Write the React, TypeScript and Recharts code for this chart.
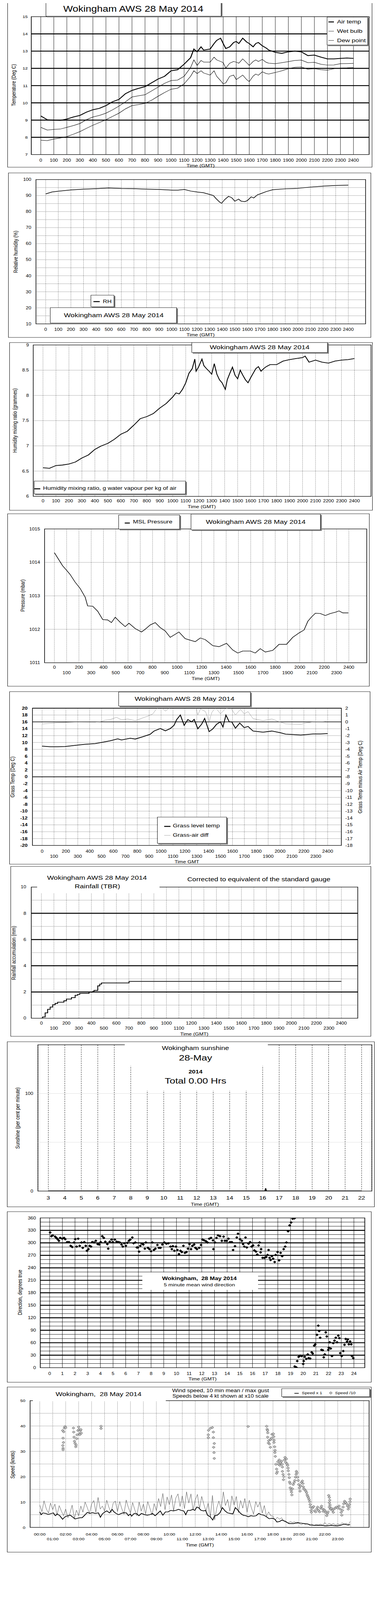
import React from 'react';
import { ComposedChart, Line, Scatter, XAxis, YAxis, CartesianGrid, ReferenceLine, ReferenceArea } from 'recharts';

const FONT = '"Liberation Sans", Arial, Helvetica, sans-serif';
// the photographed area is 1000x4096, so the 1000x5000 layout is fitted into it vertically
const FIT = 4096 / 5000;
type Pt = [number, number];
const rows = (p: Pt[]) => p.map(([x, y]) => ({ x, y }));

// ---------- axis ticks / grid values ----------
const hundredTicks = [0, 100, 200, 300, 400, 500, 600, 700, 800, 900, 1000, 1100, 1200, 1300, 1400, 1500, 1600, 1700, 1800, 1900, 2000, 2100, 2200, 2300, 2400];
const tempTicks = [7, 8, 9, 10, 11, 12, 13, 14, 15];
const tempThickLines = [8, 9, 10, 11, 12, 13, 14];
const rhTicks = [10, 20, 30, 40, 50, 60, 70, 80, 90, 100];
const rhGridLines = [15, 20, 25, 30, 35, 40, 45, 50, 55, 60, 65, 70, 75, 80, 85, 90, 95];
const mrTicks = [6, 6.5, 7, 7.5, 8, 8.5, 9];
const mrGridLines = [6.5, 7, 7.5, 8, 8.5];
const pressTicks = [1011, 1012, 1013, 1014, 1015];
const pressGridLines = [1012, 1013, 1014];
const grassTicks = [-20, -18, -16, -14, -12, -10, -8, -6, -4, -2, 0, 2, 4, 6, 8, 10, 12, 14, 16, 18, 20];
const grassDiffTicks = [-18, -17, -16, -15, -14, -13, -12, -11, -10, -9, -8, -7, -6, -5, -4, -3, -2, -1, 0, 1, 2];
const grassDotLines = [-18, -16, -14, -12, -10, -8, -6, -4, -2, 2, 4, 6, 8, 10, 12, 14, 18];
const grassSolidLines = [0, 16, 20];
const rainTicks = [0, 2, 4, 6, 8, 10];
const rainDotLines = [1, 3, 5, 7, 9];
const rainThickLines = [2, 4, 6, 8];
const sunTicks = [0, 50, 100];
const sunGridLines = [50, 100];
const sunHourTicks = [3, 4, 5, 6, 7, 8, 9, 10, 11, 12, 13, 14, 15, 16, 17, 18, 19, 20, 21, 22];
const dirTicks = [0, 30, 60, 90, 120, 150, 180, 210, 240, 270, 300, 330, 360];
const dirLines = [10, 20, 30, 40, 50, 60, 70, 80, 90, 100, 110, 120, 130, 140, 150, 160, 170, 180, 190, 200, 210, 220, 230, 240, 250, 260, 270, 280, 290, 300, 310, 320, 330, 340, 350];
const dirHourTicks = [0, 1, 2, 3, 4, 5, 6, 7, 8, 9, 10, 11, 12, 13, 14, 15, 16, 17, 18, 19, 20, 21, 22, 23, 24];
const speedTicks = [0, 10, 20, 30, 40, 50];
const speedGridLines = [5, 10, 15, 20, 25, 30, 35, 40, 45];
const speedHourTicks = [0, 1, 2, 3, 4, 5, 6, 7, 8, 9, 10, 11, 12, 13, 14, 15, 16, 17, 18, 19, 20, 21, 22, 23, 24, 25];

// ---------- data ----------
const airTemp: Pt[] = [[0,9.24],[50,9.02],[100,8.99],[150,8.98],[200,9.06],[250,9.18],[300,9.27],[350,9.46],[400,9.6],[450,9.68],[500,9.84],[550,10.06],[600,10.2],[650,10.53],[700,10.72],[750,10.84],[800,10.94],[850,11.16],[900,11.38],[950,11.54],[1000,11.86],[1050,11.92],[1100,12.24],[1150,12.62],[1175,13.12],[1200,12.96],[1230,13.25],[1250,13.06],[1300,13.12],[1330,13.44],[1350,13.62],[1380,13.75],[1400,13.44],[1420,13.15],[1450,13.25],[1480,13.5],[1500,13.56],[1520,13.44],[1550,13.75],[1580,13.53],[1600,13.44],[1630,13.25],[1650,13.44],[1670,13.5],[1700,13.31],[1730,13.18],[1750,13.06],[1800,12.93],[1850,12.87],[1900,12.96],[1950,13.0],[2000,12.96],[2050,12.74],[2100,12.77],[2150,12.65],[2200,12.55],[2250,12.55],[2300,12.58],[2350,12.6],[2400,12.58]];
const wetBulb: Pt[] = [[0,8.58],[50,8.42],[100,8.46],[150,8.48],[200,8.58],[250,8.68],[300,8.8],[350,9.02],[400,9.18],[450,9.27],[500,9.4],[550,9.59],[600,9.81],[650,10.06],[700,10.34],[750,10.41],[800,10.47],[850,10.69],[900,10.91],[950,11.13],[1000,11.29],[1050,11.32],[1100,11.54],[1150,12.05],[1175,12.49],[1200,12.17],[1230,12.46],[1250,12.36],[1300,12.36],[1330,12.65],[1350,12.49],[1380,12.4],[1400,12.33],[1420,12.02],[1450,12.3],[1480,12.4],[1500,12.36],[1520,12.3],[1550,12.55],[1580,12.33],[1600,12.17],[1630,12.4],[1650,12.49],[1670,12.4],[1700,12.52],[1730,12.35],[1750,12.3],[1800,12.27],[1850,12.33],[1900,12.39],[1950,12.46],[2000,12.48],[2050,12.33],[2100,12.35],[2150,12.24],[2200,12.19],[2250,12.2],[2300,12.27],[2350,12.28],[2400,12.29]];
const dewPoint: Pt[] = [[0,7.83],[50,7.81],[100,7.9],[150,7.96],[200,8.04],[250,8.18],[300,8.33],[350,8.52],[400,8.7],[450,8.86],[500,9.02],[550,9.21],[600,9.4],[650,9.65],[700,9.84],[750,9.9],[800,9.97],[850,10.15],[900,10.38],[950,10.6],[1000,10.79],[1050,10.85],[1100,11.1],[1150,11.54],[1175,11.86],[1200,11.7],[1230,11.86],[1250,11.73],[1300,11.61],[1330,11.86],[1350,11.54],[1380,11.29],[1400,11.1],[1420,11.16],[1450,11.54],[1480,11.61],[1500,11.35],[1520,11.45],[1550,11.61],[1580,11.35],[1600,11.23],[1630,11.55],[1650,11.67],[1670,11.6],[1700,11.8],[1730,11.7],[1750,11.67],[1800,11.76],[1850,11.86],[1900,11.98],[1950,12.06],[2000,12.08],[2050,11.95],[2100,11.98],[2150,11.92],[2200,11.89],[2250,11.98],[2300,12.02],[2350,12.03],[2400,12.05]];
const relHum: Pt[] = [[0,91.0],[50,92.2],[100,92.7],[200,93.5],[300,94.0],[400,94.3],[500,94.7],[600,94.4],[700,94.3],[800,94.0],[900,93.8],[1000,93.4],[1050,93.4],[1100,93.8],[1150,92.8],[1200,92.2],[1250,91.8],[1300,90.7],[1330,90.0],[1350,88.2],[1380,85.9],[1395,85.2],[1420,87.5],[1450,89.5],[1475,88.7],[1500,86.5],[1530,87.8],[1550,86.5],[1580,86.2],[1600,86.9],[1630,89.2],[1650,88.5],[1680,90.5],[1700,91.0],[1750,92.5],[1800,93.6],[1900,94.2],[2000,94.5],[2100,95.3],[2200,95.9],[2300,96.3],[2400,96.5]];
const mixRatio: Pt[] = [[0,6.566],[50,6.555],[100,6.61],[150,6.62],[200,6.64],[250,6.68],[300,6.76],[350,6.82],[400,6.93],[450,7.0],[500,7.05],[550,7.13],[600,7.23],[650,7.29],[700,7.41],[750,7.54],[800,7.58],[850,7.64],[900,7.75],[950,7.84],[1000,7.97],[1025,8.05],[1050,8.03],[1075,8.12],[1100,8.25],[1125,8.44],[1150,8.53],[1170,8.72],[1180,8.48],[1200,8.57],[1225,8.72],[1240,8.59],[1260,8.53],[1280,8.48],[1300,8.42],[1320,8.63],[1340,8.42],[1360,8.31],[1380,8.25],[1405,8.12],[1420,8.31],[1440,8.44],[1460,8.56],[1480,8.4],[1500,8.33],[1520,8.5],[1540,8.4],[1560,8.31],[1580,8.25],[1600,8.35],[1620,8.44],[1640,8.53],[1660,8.57],[1680,8.48],[1700,8.53],[1720,8.57],[1750,8.61],[1800,8.61],[1850,8.68],[1900,8.71],[1950,8.73],[2000,8.75],[2020,8.78],[2050,8.66],[2100,8.7],[2150,8.66],[2200,8.64],[2250,8.68],[2300,8.7],[2350,8.71],[2400,8.73]];
const mslPressure: Pt[] = [[0,1014.29],[67,1013.9],[98,1013.77],[128,1013.64],[169,1013.41],[210,1013.22],[251,1012.96],[271,1012.7],[312,1012.69],[353,1012.54],[394,1012.29],[434,1012.28],[465,1012.2],[496,1012.36],[536,1012.21],[577,1012.08],[608,1012.18],[659,1012.02],[710,1011.92],[740,1012.0],[781,1012.13],[822,1012.2],[863,1012.05],[903,1011.95],[944,1011.76],[985,1011.85],[1015,1011.92],[1066,1011.72],[1148,1011.63],[1189,1011.74],[1230,1011.69],[1291,1011.51],[1342,1011.48],[1403,1011.58],[1454,1011.38],[1495,1011.29],[1535,1011.35],[1597,1011.35],[1637,1011.29],[1678,1011.42],[1719,1011.32],[1780,1011.37],[1831,1011.55],[1892,1011.55],[1943,1011.76],[1994,1011.89],[2035,1011.98],[2066,1012.24],[2096,1012.37],[2127,1012.48],[2168,1012.47],[2208,1012.41],[2249,1012.47],[2290,1012.51],[2320,1012.55],[2351,1012.49],[2396,1012.49]];
const grassTemp: Pt[] = [[0,8.93],[67,8.77],[131,8.77],[194,8.83],[278,9.17],[362,9.47],[446,9.67],[509,10.07],[573,10.5],[636,11.07],[667,10.73],[741,11.23],[783,11.0],[846,11.67],[909,12.4],[941,13.33],[994,14.07],[1036,13.4],[1078,14.07],[1109,15.0],[1131,16.67],[1162,18.0],[1194,15.0],[1225,16.67],[1257,16.0],[1278,16.73],[1309,14.0],[1341,15.33],[1366,17.0],[1404,13.17],[1436,14.0],[1467,15.33],[1499,16.0],[1520,14.5],[1545,18.0],[1573,16.0],[1594,16.0],[1625,14.17],[1661,15.67],[1699,14.33],[1731,14.67],[1773,13.33],[1857,13.0],[1931,13.33],[2004,12.83],[2046,12.43],[2109,12.33],[2173,12.17],[2225,12.33],[2278,12.5],[2341,12.5],[2400,12.6]];
const grassAirDiff: Pt[] = [[0,-0.3],[131,-0.13],[278,-0.03],[446,-0.05],[488,0.03],[531,0.25],[573,0.33],[625,0.67],[667,0.3],[720,0.42],[783,0.17],[846,0.58],[888,0.83],[931,1.17],[962,1.92],[994,2.2],[1036,1.58],[1078,2.1],[1120,2.6],[1162,2.4],[1204,2.5],[1246,2.3],[1288,2.2],[1309,1.0],[1331,1.9],[1373,1.5],[1404,0.0],[1425,1.33],[1457,2.1],[1499,1.17],[1541,1.92],[1583,2.1],[1625,1.0],[1667,1.83],[1699,1.17],[1731,1.5],[1773,0.47],[1857,0.17],[1931,0.42],[1983,0.08],[2046,-0.28],[2109,-0.33],[2173,-0.37],[2215,-0.17],[2278,0.0],[2362,0.03],[2383,0.08]];
const rainfall: Pt[] = [[0,0],[10,0.1],[30,0.41],[50,0.68],[70,0.85],[90,1.03],[110,1.13],[130,1.22],[180,1.33],[200,1.46],[240,1.57],[270,1.75],[290,1.82],[307,1.89],[381,1.99],[411,2.04],[421,2.12],[451,2.47],[467,2.6],[481,2.69],[701,2.81],[2400,2.81]];
const sunshine: Pt[] = [[3,0],[16.14,0],[16.18,2.7],[16.22,0],[22,0]];
const windDir: Pt[] = [[0.04,325],[0.14,316],[0.24,318],[0.43,315],[0.53,312],[0.63,309],[0.73,305],[0.83,312],[0.99,310],[1.13,312],[1.23,309],[1.38,302],[1.52,302],[1.66,293],[1.78,290],[1.92,301],[2.02,309],[2.13,291],[2.25,310],[2.37,293],[2.51,301],[2.61,288],[2.73,302],[2.85,293],[2.94,281],[3.06,285],[3.16,293],[3.26,291],[3.36,302],[3.5,301],[3.64,305],[3.79,297],[3.91,296],[4.03,302],[4.15,316],[4.27,312],[4.39,303],[4.55,297],[4.62,286],[4.74,303],[4.88,308],[4.98,302],[5.14,308],[5.28,303],[5.42,302],[5.53,301],[5.67,296],[5.77,291],[5.89,299],[6.01,293],[6.13,300],[6.25,305],[6.36,308],[6.52,313],[6.62,299],[6.76,301],[6.88,289],[6.96,289],[7.06,279],[7.15,293],[7.27,298],[7.39,296],[7.51,286],[7.59,301],[7.75,288],[7.87,285],[8.0,280],[8.1,301],[8.22,283],[8.34,286],[8.5,295],[8.62,288],[8.74,288],[8.89,296],[9.05,301],[9.21,298],[9.37,299],[9.53,291],[9.64,285],[9.72,292],[9.84,281],[9.96,291],[10.08,283],[10.2,273],[10.32,281],[10.43,278],[10.55,293],[10.67,276],[10.79,278],[10.91,286],[11.03,297],[11.15,285],[11.26,293],[11.4,296],[11.5,288],[11.62,285],[11.8,288],[11.94,295],[12.06,308],[12.19,306],[12.33,304],[12.45,301],[12.59,310],[12.73,312],[12.89,306],[12.92,285],[13.04,301],[13.16,312],[13.28,318],[13.44,316],[13.58,305],[13.72,315],[13.83,305],[13.97,305],[14.11,310],[14.23,302],[14.37,302],[14.47,283],[14.62,292],[14.76,313],[14.86,322],[15.02,309],[15.16,305],[15.26,297],[15.36,291],[15.45,313],[15.55,289],[15.69,298],[15.81,302],[15.93,291],[16.05,294],[16.15,282],[16.28,279],[16.38,272],[16.48,294],[16.56,301],[16.64,277],[16.68,285],[16.8,264],[16.94,264],[17.08,266],[17.19,271],[17.27,283],[17.35,264],[17.43,259],[17.53,268],[17.63,262],[17.75,254],[17.83,271],[17.98,278],[18.1,258],[18.22,276],[18.34,268],[18.46,285],[18.58,291],[18.68,301],[18.81,328],[18.93,342],[19.05,349],[19.17,358],[19.31,359],[19.33,3],[19.45,1],[19.53,16],[19.64,26],[19.76,29],[19.88,28],[20.0,9],[20.04,16],[20.12,26],[20.24,21],[20.36,32],[20.43,23],[20.55,22],[20.67,37],[20.75,34],[20.87,53],[20.95,56],[21.09,79],[21.19,101],[21.26,88],[21.34,72],[21.44,43],[21.54,42],[21.62,25],[21.7,32],[21.78,85],[21.86,75],[21.98,43],[22.02,48],[22.09,61],[22.17,46],[22.27,28],[22.37,59],[22.47,65],[22.57,72],[22.67,61],[22.77,77],[22.85,71],[22.92,35],[23.04,28],[23.16,40],[23.26,55],[23.36,69],[23.46,63],[23.52,68],[23.6,56],[23.7,63],[23.79,56],[23.85,28],[23.95,23]];
const meanSpeed: Pt[] = [[0,6.1],[0.1,5.0],[0.25,5.7],[0.45,5.5],[0.65,5.1],[0.85,5.4],[1.05,5.7],[1.2,4.6],[1.35,5.3],[1.55,4.6],[1.76,3.2],[1.96,4.2],[2.16,4.6],[2.36,4.8],[2.51,4.2],[2.72,3.3],[2.92,3.6],[3.12,3.8],[3.27,3.8],[3.47,4.8],[3.67,5.9],[3.87,5.5],[4.07,5.8],[4.28,5.5],[4.53,5.7],[4.68,4.0],[4.83,5.3],[5.03,6.1],[5.18,6.5],[5.38,5.7],[5.58,7.1],[5.73,6.1],[5.89,5.5],[6.09,5.0],[6.29,5.5],[6.49,5.8],[6.69,5.7],[6.84,4.6],[6.99,5.3],[7.09,4.4],[7.29,5.5],[7.49,5.4],[7.65,4.6],[7.85,5.5],[8.1,5.0],[8.3,4.8],[8.5,5.0],[8.7,5.5],[8.9,4.6],[9.1,5.5],[9.3,6.5],[9.5,4.8],[9.7,6.1],[9.9,6.1],[10.11,6.7],[10.31,6.5],[10.51,6.7],[10.71,7.1],[10.91,6.7],[11.11,6.5],[11.27,5.0],[11.42,6.7],[11.62,6.7],[11.82,7.1],[11.97,6.7],[12.12,8.0],[12.25,7.8],[12.45,6.7],[12.65,6.5],[12.8,6.7],[12.95,4.8],[13.15,4.2],[13.35,2.9],[13.5,4.6],[13.7,4.8],[13.9,5.7],[14.1,7.8],[14.3,6.5],[14.5,5.7],[14.7,5.5],[14.9,5.3],[15.1,7.8],[15.3,6.7],[15.5,5.5],[15.7,4.8],[15.9,4.6],[16.1,4.2],[16.3,4.6],[16.5,4.4],[16.7,4.6],[16.9,5.5],[17.1,5.0],[17.3,4.8],[17.5,4.2],[17.7,3.4],[17.95,3.6],[18.15,3.2],[18.3,2.1],[18.5,2.3],[18.7,2.9],[18.95,2.3],[19.25,1.5],[19.6,1.5],[19.9,1.9],[20.1,1.7],[20.4,1.5],[20.7,1.3],[20.9,0.9],[21.2,0.8],[21.5,0.8],[21.8,0.8],[22.1,0.6],[22.5,0.8],[22.9,0.6],[23.2,0.8],[23.5,1.3],[23.8,0.9],[23.95,1.1]];
const gustSpeed: Pt[] = [[0,8.8],[0.17,6.2],[0.33,10.5],[0.5,7.4],[0.67,5.6],[0.83,9.6],[1,7.0],[1.17,9.2],[1.33,4.8],[1.5,8.6],[1.67,6.4],[1.83,4.6],[2,7.2],[2.17,3.8],[2.33,5.6],[2.5,8.8],[2.67,3.4],[2.83,6.8],[3,4.6],[3.17,8.4],[3.33,6.0],[3.5,10.0],[3.67,7.8],[3.83,5.4],[4,9.2],[4.17,10.6],[4.33,6.0],[4.5,11.8],[4.67,7.2],[4.83,8.4],[5,6.4],[5.17,10.7],[5.33,8.0],[5.5,5.8],[5.67,9.6],[5.83,10.4],[6,6.2],[6.17,10.2],[6.33,7.4],[6.5,5.2],[6.67,10.8],[6.83,8.0],[7,5.6],[7.17,9.8],[7.33,7.0],[7.5,4.6],[7.67,10.0],[7.83,6.4],[8,9.2],[8.17,5.2],[8.33,10.2],[8.5,7.6],[8.67,4.8],[8.83,9.4],[9,6.6],[9.17,11.4],[9.33,8.2],[9.5,13.4],[9.67,7.0],[9.83,12.0],[10,9.0],[10.17,12.8],[10.33,6.6],[10.5,11.6],[10.67,13.2],[10.83,8.2],[11,12.4],[11.17,7.4],[11.33,14.0],[11.5,9.6],[11.67,13.2],[11.83,6.8],[12,10.8],[12.17,13.0],[12.33,7.2],[12.5,12.2],[12.67,9.0],[12.83,6.4],[13,9.6],[13.17,4.2],[13.33,12.6],[13.5,3.0],[13.67,7.8],[13.83,10.4],[14,7.2],[14.17,14.0],[14.33,8.6],[14.5,11.0],[14.67,6.4],[14.83,12.4],[15,8.8],[15.17,12.2],[15.33,5.8],[15.5,10.6],[15.67,7.6],[15.83,11.4],[16,6.0],[16.17,10.7],[16.33,7.8],[16.5,5.2],[16.67,10.2],[16.83,8.0],[17,10.0],[17.17,5.6],[17.33,8.6],[17.5,4.4],[17.67,6.1],[17.83,4.6],[18,4.4],[18.17,2.8],[18.33,4.0],[18.5,3.2],[18.67,3.8],[18.83,2.6],[19,2.5],[19.17,1.6],[19.33,2.3],[19.5,1.9],[19.67,2.2],[19.83,1.5],[20,1.7],[20.17,1.0],[20.33,1.5],[20.5,1.2],[20.67,1.4],[20.83,0.8],[21,1.3],[21.17,0.7],[21.33,1.2],[21.5,0.9],[21.67,1.3],[21.83,0.8],[22,1.9],[22.17,0.9],[22.33,1.6],[22.5,1.1],[22.67,1.5],[22.83,0.9],[23,1.4],[23.17,1.0],[23.33,1.8],[23.5,1.2],[23.67,1.6],[23.83,1.1],[23.95,2.3]];
const speedTenth: Pt[] = [[1.77,38.2],[1.8,35.2],[1.83,33.5],[1.78,32.3],[1.8,31.2],[1.8,30.6],[1.85,37.7],[1.9,39.2],[1.95,39.8],[2.0,39.3],[2.6,39.2],[2.62,37.6],[2.65,35.6],[2.68,34],[2.72,33.2],[2.78,31.8],[2.8,32.5],[2.85,35],[2.88,36.5],[2.95,38.2],[3.0,39.6],[3.03,38.6],[3.07,37],[3.1,36.6],[3.13,38.2],[3.17,38.6],[3.2,37.2],[4.73,39.9],[4.73,39.0],[13.01,35.4],[13.01,36.5],[13.03,38.3],[13.17,39.1],[13.32,39.4],[13.4,37.6],[13.4,35.4],[13.47,33.1],[13.42,31.6],[13.45,29.5],[13.47,27.2],[16.08,39.8],[17.51,39.9],[17.55,38.7],[17.58,38.2],[17.6,37.3],[17.59,35.6],[17.67,34.2],[17.65,33.3],[17.72,32.9],[17.82,34.6],[17.8,31.6],[17.88,35.2],[17.93,36.7],[18.03,36.9],[18.06,35.8],[18.08,34.4],[18.08,33.5],[18.13,31.8],[18.16,30.4],[18.15,29.5],[18.18,28.0],[18.23,24.9],[18.28,23.0],[18.33,21.9],[18.28,21.3],[18.38,25.9],[18.43,24.9],[18.48,26.6],[18.53,24.5],[18.58,25.5],[18.66,26.1],[18.7,24.9],[18.73,23.8],[18.73,22.1],[18.78,20.9],[18.81,18.8],[18.83,20.0],[18.88,26.6],[18.93,27.6],[18.98,25.7],[19.03,27.0],[19.08,25.1],[19.13,24.5],[19.16,23.4],[19.18,22.3],[19.23,20.9],[19.26,19.6],[19.28,17.9],[19.33,17.3],[19.33,15.6],[19.4,14.7],[19.43,13.9],[19.46,12.8],[19.5,15.2],[19.56,16.9],[19.63,17.7],[19.69,18.5],[19.74,19.8],[19.79,20.9],[19.81,22.1],[19.85,21.5],[19.89,19.8],[19.94,18.5],[19.99,16.9],[20.04,15.6],[20.09,14.3],[20.14,16.4],[20.19,17.7],[20.27,18.3],[20.31,17.3],[20.34,16.0],[20.39,15.2],[20.47,14.7],[20.54,14.3],[20.59,13.7],[20.64,12.8],[20.69,12.2],[20.74,11.6],[20.79,10.9],[20.84,10.1],[20.87,9.0],[20.89,8.0],[20.94,6.7],[20.97,5.9],[21.04,7.6],[21.14,8.2],[21.2,6.5],[21.3,6.1],[21.38,7.2],[21.45,8.0],[21.52,6.7],[21.6,6.1],[21.68,7.6],[21.75,8.4],[21.8,7.4],[21.88,6.3],[21.95,6.9],[22.02,6.5],[22.08,5.9],[22.15,4.6],[22.2,5.5],[22.25,6.1],[22.3,12.6],[22.35,11.8],[22.38,10.7],[22.35,9.7],[22.4,8.8],[22.35,8.0],[22.42,7.2],[22.5,7.6],[22.58,6.7],[22.66,5.9],[22.7,7.2],[22.8,7.6],[22.9,8.0],[23.0,7.6],[23.1,8.4],[23.19,7.2],[23.26,5.9],[23.31,4.8],[23.36,6.7],[23.41,8.0],[23.46,9.3],[23.53,10.3],[23.6,9.9],[23.68,9.3],[23.75,8.4],[23.81,7.2],[23.86,8.0],[23.91,9.0],[23.94,10.1],[23.96,11.2]];

// ---------- helpers ----------
const abs = (l: number, t: number, w: number, h: number): React.CSSProperties => ({ position: 'absolute', left: l, top: t, width: w, height: h });
const tk = (size: number, bold = false) => ({ fontSize: size, fill: '#000', fontFamily: FONT, fontWeight: bold ? 'bold' : 'normal' });

function Frame({ l, t, w, h }: any) {
  return <div style={{ ...abs(l, t, w, h), border: '1.5px solid #000', boxSizing: 'border-box' }} />;
}
function Box({ l, t, w, h, shadow = true, border = true }: any) {
  return <div style={{ ...abs(l, t, w, h), background: '#fff', border: border ? '1px solid #000' : 'none', boxSizing: 'border-box', boxShadow: shadow ? '3px 3px 0 #7a7a7a' : 'none' }} />;
}
function T({ x, y, size, bold = false, anchor = 'middle', rot = false, children }: any) {
  const tx = anchor === 'middle' ? '-50%' : anchor === 'end' ? '-100%' : '0';
  return (
    <div style={{ position: 'absolute', left: x, top: y, transform: `translate(${tx},-50%)${rot ? ' rotate(-90deg)' : ''}`, fontFamily: FONT, fontSize: size, fontWeight: bold ? 'bold' : 'normal', whiteSpace: 'pre', lineHeight: 1, color: '#000' }}>
      {children}
    </div>
  );
}
function Sample({ x, y, w, th, color = '#000' }: any) {
  return <div style={{ position: 'absolute', left: x, top: y - th / 2, width: w, height: th, background: color }} />;
}
function White({ l, t, w, h }: any) {
  return <div style={{ ...abs(l, t, w, h), background: '#fff' }} />;
}

const rowTick = (size: number, gap: number, lower: (v: number) => boolean, fmt: (v: number) => string) => (props: any) => {
  const { x, y, payload } = props;
  const v = payload.value;
  const s = fmt(v);
  if (!s) return <g />;
  return (
    <text x={x} y={y + (lower(v) ? gap : 0)} dy="0.71em" textAnchor="middle" fontSize={size} fontFamily={FONT} fill="#000">
      {s}
    </text>
  );
};
const oddHundred = (v: number) => (v / 100) % 2 === 1;
const oddHour = (v: number) => v % 2 === 1;

const blackDiamond = (p: any) => <path d={`M${p.cx},${p.cy - 4.2}L${p.cx + 4},${p.cy}L${p.cx},${p.cy + 4.2}L${p.cx - 4},${p.cy}Z`} fill="#000" />;
const grayDiamond = (p: any) => <path d={`M${p.cx},${p.cy - 3.8}L${p.cx + 3.8},${p.cy}L${p.cx},${p.cy + 3.8}L${p.cx - 3.8},${p.cy}Z`} fill="#c4c4c4" stroke="#333" strokeWidth={0.8} />;

const noAxis = { tickLine: false, axisLine: false, tickSize: 0, interval: 0 as const, allowDataOverflow: true };

// ---------- panels ----------
function TempPanel() {
  const xd: [number, number] = [-73, 2520];
  return (
    <>
      <Frame l={19} t={5} w={933} h={518} />
      <div style={abs(19, 5, 933, 518)}>
        <ComposedChart width={933} height={518} margin={{ top: 47, right: 8, bottom: 0, left: 0 }}>
          <CartesianGrid horizontal={false} stroke="#000" strokeWidth={1} />
          <XAxis type="number" dataKey="x" domain={xd} ticks={hundredTicks} height={40} tickMargin={13.5} tick={tk(12.5)} {...noAxis} />
          <YAxis type="number" domain={[7, 15]} ticks={tempTicks} width={61} tickMargin={9} tick={tk(12)} {...noAxis} />
          {tempThickLines.map((v) => <ReferenceLine key={v} y={v} stroke="#000" strokeWidth={3} />)}
          <ReferenceArea x1={xd[0]} x2={xd[1]} y1={7} y2={15} fill="none" stroke="#000" strokeWidth={1.5} />
          <Line data={rows(dewPoint)} dataKey="y" stroke="#000" strokeWidth={1.2} dot={false} activeDot={false} isAnimationActive={false} />
          <Line data={rows(wetBulb)} dataKey="y" stroke="#000" strokeWidth={1.2} dot={false} activeDot={false} isAnimationActive={false} />
          <Line data={rows(airTemp)} dataKey="y" stroke="#000" strokeWidth={2.5} dot={false} activeDot={false} isAnimationActive={false} />
        </ComposedChart>
      </div>
      <Box l={117} t={5} w={449} h={46} />
      <T x={341} y={28} size={26}>Wokingham AWS 28 May 2014</T>
      <Box l={836} t={53} w={105} h={88} />
      <Sample x={840} y={68} w={14} th={3} />
      <T x={862} y={68} size={16.5} anchor="start">Air temp</T>
      <Sample x={840} y={97} w={14} th={1} />
      <T x={862} y={97} size={16.5} anchor="start">Wet bulb</T>
      <Sample x={840} y={126} w={14} th={1} />
      <T x={862} y={126} size={16.5} anchor="start">Dew point</T>
      <T x={35} y={266} size={14} rot>Temperature (Deg C)</T>
      <T x={513} y={518} size={13.5}>Time (GMT)</T>
    </>
  );
}

function RhPanel() {
  const xd: [number, number] = [-77, 2537];
  return (
    <>
      <Frame l={21} t={540} w={928} h={515} />
      <div style={abs(21, 540, 928, 515)}>
        <ComposedChart width={928} height={515} margin={{ top: 21, right: 14, bottom: 0, left: 0 }}>
          <CartesianGrid horizontal={false} stroke="#000" strokeDasharray="1 2" />
          <XAxis type="number" dataKey="x" domain={xd} ticks={hundredTicks} height={43} tickMargin={13.5} tick={tk(12.5)} {...noAxis} />
          <YAxis type="number" domain={[10, 100]} ticks={rhTicks} width={71} tickMargin={12} tick={tk(12.5)} {...noAxis} />
          {rhGridLines.map((v) => <ReferenceLine key={v} y={v} stroke="#000" strokeDasharray="1 2" />)}
          <ReferenceArea x1={xd[0]} x2={xd[1]} y1={10} y2={100} fill="none" stroke="#000" strokeWidth={1.5} />
          <Line data={rows(relHum)} dataKey="y" stroke="#000" strokeWidth={1.8} dot={false} activeDot={false} isAnimationActive={false} />
        </ComposedChart>
      </div>
      <Box l={232} t={922} w={60} h={37} />
      <Sample x={239} y={942} w={16} th={3} />
      <T x={263} y={942} size={15.5} anchor="start">RH</T>
      <Box l={128} t={961} w={324} h={49} />
      <T x={291} y={985} size={18.5}>Wokingham AWS 28 May 2014</T>
      <T x={40} y={787} size={14} rot>Relative humidity (%)</T>
      <T x={513} y={1047} size={13.5}>Time (GMT)</T>
    </>
  );
}

function MixPanel() {
  const xd: [number, number] = [-75, 2528];
  return (
    <>
      <Frame l={24} t={1070} w={929} h={525} />
      <div style={abs(24, 1070, 929, 525)}>
        <ComposedChart width={929} height={525} margin={{ top: 8, right: 4, bottom: 0, left: 0 }}>
          <CartesianGrid horizontal={false} stroke="#000" strokeDasharray="1 2" />
          <XAxis type="number" dataKey="x" domain={xd} ticks={hundredTicks} height={44} tickMargin={10.5} tick={tk(12.5)} {...noAxis} />
          <YAxis type="number" domain={[6, 9]} ticks={mrTicks} width={61} tickMargin={11} tick={tk(12.5)} {...noAxis} />
          {mrGridLines.map((v) => <ReferenceLine key={v} y={v} stroke="#000" strokeDasharray="1 2" />)}
          <ReferenceArea x1={xd[0]} x2={xd[1]} y1={6} y2={9} fill="none" stroke="#000" strokeWidth={1.5} />
          <Line data={rows(mixRatio)} dataKey="y" stroke="#000" strokeWidth={2.2} dot={false} activeDot={false} isAnimationActive={false} />
        </ComposedChart>
      </div>
      <Box l={490} t={1070} w={348} h={32} />
      <T x={664} y={1086} size={18.5}>Wokingham AWS 28 May 2014</T>
      <Box l={87} t={1503} w={388} h={41} />
      <Sample x={88} y={1527} w={15} th={3} />
      <T x={110} y={1525} size={15.5} anchor="start">Humidity mixing ratio, g water vapour per kg of air</T>
      <T x={38} y={1314} size={14} rot>Humidity mixing ratio (grammes)</T>
      <T x={516} y={1584} size={13.5}>Time (GMT)</T>
    </>
  );
}

function PressurePanel() {
  const xd: [number, number] = [-80, 2546];
  return (
    <>
      <Frame l={19} t={1605} w={926} h={540} />
      <div style={abs(19, 1605, 926, 540)}>
        <ComposedChart width={926} height={540} margin={{ top: 48, right: 7, bottom: 0, left: 0 }}>
          <CartesianGrid horizontal={false} stroke="#000" strokeDasharray="1 2" />
          <XAxis type="number" dataKey="x" domain={xd} ticks={hundredTicks} height={74} tickMargin={9.5} tick={rowTick(12.5, 17, oddHundred, (v) => String(v))} {...noAxis} />
          <YAxis type="number" domain={[1011, 1015]} ticks={pressTicks} width={95} tickMargin={11.5} tick={tk(12.5)} {...noAxis} />
          {pressGridLines.map((v) => <ReferenceLine key={v} y={v} stroke="#000" strokeDasharray="1 2" />)}
          <ReferenceArea x1={xd[0]} x2={xd[1]} y1={1011} y2={1015} fill="none" stroke="#000" strokeWidth={1.5} />
          <Line data={rows(mslPressure)} dataKey="y" stroke="#000" strokeWidth={1.6} dot={false} activeDot={false} isAnimationActive={false} />
        </ComposedChart>
      </div>
      <Box l={303} t={1609} w={157} h={45} />
      <Sample x={319} y={1634} w={13} th={3} />
      <T x={340} y={1631} size={16} anchor="start">MSL Pressure</T>
      <Box l={488} t={1606} w={332} h={50} />
      <T x={654} y={1631} size={18.5}>Wokingham AWS 28 May 2014</T>
      <T x={58} y={1861} size={14} rot>Pressure (mbar)</T>
      <T x={526} y={2121} size={13.5}>Time (GMT)</T>
    </>
  );
}

function GrassPanel() {
  const xd: [number, number] = [-81, 2515];
  return (
    <>
      <Frame l={24} t={2161} w={923} h={540} />
      <div style={abs(24, 2161, 923, 540)}>
        <ComposedChart width={923} height={540} margin={{ top: 52, right: 0, bottom: 0, left: 0 }}>
          <CartesianGrid horizontal={false} yAxisId="l" stroke="#000" strokeDasharray="1 2" />
          <XAxis type="number" dataKey="x" domain={xd} ticks={hundredTicks} height={59} tickMargin={13.5} tick={rowTick(12.5, 16, oddHundred, (v) => String(v))} {...noAxis} />
          <YAxis yAxisId="l" type="number" domain={[-20, 20]} ticks={grassTicks} width={59} tickMargin={12.5} tick={tk(13, true)} {...noAxis} />
          <YAxis yAxisId="r" orientation="right" type="number" domain={[-18, 2]} ticks={grassDiffTicks} width={74} tickMargin={10} tick={tk(13)} {...noAxis} />
          {grassDotLines.map((v) => <ReferenceLine key={v} yAxisId="l" y={v} stroke="#000" strokeDasharray="1 2" />)}
          {grassSolidLines.map((v) => <ReferenceLine key={'s' + v} yAxisId="l" y={v} stroke="#000" strokeWidth={2} />)}
          <ReferenceArea yAxisId="l" x1={xd[0]} x2={xd[1]} y1={-20} y2={20} fill="none" stroke="#000" strokeWidth={1.5} />
          <Line yAxisId="r" data={rows(grassAirDiff)} dataKey="y" stroke="#9a9a9a" strokeWidth={1} dot={false} activeDot={false} isAnimationActive={false} />
          <Line yAxisId="l" data={rows(grassTemp)} dataKey="y" stroke="#000" strokeWidth={2.2} dot={false} activeDot={false} isAnimationActive={false} />
        </ComposedChart>
      </div>
      <Box l={303} t={2162} w={338} h={45} />
      <T x={472} y={2184} size={18.5}>Wokingham AWS 28 May 2014</T>
      <Box l={402} t={2553} w={178} h={83} />
      <Sample x={420} y={2582} w={16} th={3} />
      <T x={442} y={2581} size={16} anchor="start">Grass level temp</T>
      <Sample x={420} y={2610} w={16} th={1} color="#9a9a9a" />
      <T x={442} y={2610} size={16} anchor="start">Grass-air diff</T>
      <T x={32} y={2428} size={14} rot>Grass Temp (Deg C)</T>
      <T x={921} y={2428} size={14} rot>Grass Temp minus Air Temp (Deg C)</T>
      <T x={478} y={2694} size={13.5}>Time GMT</T>
    </>
  );
}

function RainPanel() {
  const xd: [number, number] = [-81, 2531];
  return (
    <>
      <Frame l={27} t={2707} w={922} h={532} />
      <div style={abs(27, 2707, 922, 532)}>
        <ComposedChart width={922} height={532} margin={{ top: 65, right: 34, bottom: 0, left: 0 }}>
          <CartesianGrid horizontal={false} stroke="#000" strokeDasharray="1 2" />
          <XAxis type="number" dataKey="x" domain={xd} ticks={hundredTicks} height={57} tickMargin={11.5} tick={rowTick(12.5, 16, oddHundred, (v) => String(v))} {...noAxis} />
          <YAxis type="number" domain={[0, 10]} ticks={rainTicks} width={53} tickMargin={13} tick={tk(12.5)} {...noAxis} />
          {rainDotLines.map((v) => <ReferenceLine key={v} y={v} stroke="#000" strokeDasharray="1 2" />)}
          {rainThickLines.map((v) => <ReferenceLine key={'t' + v} y={v} stroke="#000" strokeWidth={3} />)}
          <ReferenceArea x1={xd[0]} x2={xd[1]} y1={0} y2={10} fill="none" stroke="#000" strokeWidth={1.5} />
          <Line type="stepAfter" data={rows(rainfall)} dataKey="y" stroke="#000" strokeWidth={2.2} dot={false} activeDot={false} isAnimationActive={false} />
        </ComposedChart>
      </div>
      <White l={95} t={2768} w={313} h={23} />
      <T x={248} y={2743} size={18.5}>Wokingham AWS 28 May 2014</T>
      <T x={249} y={2770} size={18.5}>Rainfall (TBR)</T>
      <T x={662} y={2748} size={18}>Corrected to equivalent of the standard gauge</T>
      <T x={35} y={2978} size={14} rot>Rainfall accumulation (mm)</T>
      <T x={497} y={3232} size={13.5}>Time (GMT)</T>
    </>
  );
}

function SunPanel() {
  const xd: [number, number] = [2.37, 22.62];
  return (
    <>
      <Frame l={18} t={3255} w={940} h={517} />
      <div style={abs(18, 3255, 940, 517)}>
        <ComposedChart width={940} height={517} margin={{ top: 10, right: 7, bottom: 0, left: 0 }}>
          <CartesianGrid horizontal={false} stroke="#000" strokeDasharray="4 3" />
          <XAxis type="number" dataKey="x" domain={xd} ticks={sunHourTicks} height={50} tickMargin={15} tick={tk(16)} {...noAxis} />
          <YAxis type="number" domain={[0, 150]} ticks={sunTicks} width={79} tickMargin={12} tick={tk(12.5)} tickFormatter={(v: number) => (v === 50 ? '' : String(v))} {...noAxis} />
          {sunGridLines.map((v) => <ReferenceLine key={v} y={v} stroke="#9a9a9a" strokeDasharray="1 2" />)}
          <ReferenceArea x1={xd[0]} x2={xd[1]} y1={0} y2={150} fill="none" stroke="#000" strokeWidth={1.5} />
          <Line data={rows(sunshine)} dataKey="y" stroke="#000" strokeWidth={3} dot={false} activeDot={false} isAnimationActive={false} />
        </ComposedChart>
      </div>
      <White l={319} t={3262} w={366} h={69} />
      <White l={345} t={3330} w={315} h={78} />
      <T x={500} y={3275} size={18}>Wokingham sunshine</T>
      <T x={500} y={3306} size={25.5}>28-May</T>
      <T x={500} y={3349} size={16} bold>2014</T>
      <T x={500} y={3378} size={25.5}>Total 0.00 Hrs</T>
      <T x={45} y={3494} size={14} rot>Sunshine (per cent per minute)</T>
      <T x={524} y={3764} size={13.5}>Time (GMT)</T>
    </>
  );
}

function DirPanel() {
  const xd: [number, number] = [-0.74, 24.86];
  return (
    <>
      <Frame l={18} t={3786} w={932} h={534} />
      <div style={abs(18, 3786, 932, 534)}>
        <ComposedChart width={932} height={534} margin={{ top: 20, right: 17, bottom: 0, left: 0 }}>
          <CartesianGrid horizontal={false} stroke="#000" strokeWidth={1} />
          <XAxis type="number" dataKey="x" domain={xd} ticks={dirHourTicks} height={46} tickMargin={14.5} tick={tk(12.5)} {...noAxis} />
          <YAxis type="number" domain={[0, 360]} ticks={dirTicks} width={85} tickMargin={11} tick={tk(12.5)} {...noAxis} />
          {dirLines.map((v) => <ReferenceLine key={v} y={v} stroke="#000" strokeWidth={v % 30 === 0 ? 3 : 1} />)}
          <ReferenceArea x1={xd[0]} x2={xd[1]} y1={0} y2={360} fill="none" stroke="#000" strokeWidth={1.5} />
          <Scatter data={rows(windDir)} dataKey="y" shape={blackDiamond} isAnimationActive={false} />
        </ComposedChart>
      </div>
      <White l={364} t={3976} w={296} h={55} />
      <T x={510} y={3995} size={15.5} bold>{'Wokingham,  28 May 2014'}</T>
      <T x={510} y={4015} size={14}>5 minute mean wind direction</T>
      <T x={51} y={4039} size={14} rot>Direction, degrees true</T>
      <T x={518} y={4310} size={13.5}>Time (GMT)</T>
    </>
  );
}

function SpeedPanel() {
  const xd: [number, number] = [-0.745, 25.42];
  return (
    <>
      <Frame l={18} t={4334} w={932} h={517} />
      <div style={abs(18, 4334, 932, 517)}>
        <ComposedChart width={932} height={517} margin={{ top: 43, right: 6, bottom: 0, left: 0 }}>
          <CartesianGrid horizontal={false} stroke="#000" strokeDasharray="1 2" />
          <XAxis type="number" dataKey="x" domain={xd} ticks={speedHourTicks} height={78} tickMargin={16.5} tick={rowTick(12, 15, oddHour, (v) => (v < 24 ? `${String(v).padStart(2, '0')}:00` : ''))} {...noAxis} />
          <YAxis type="number" domain={[0, 50]} ticks={speedTicks} width={59} tickMargin={12} tick={tk(12)} {...noAxis} />
          {speedGridLines.map((v) => <ReferenceLine key={v} y={v} stroke="#000" strokeDasharray="1 2" />)}
          <ReferenceArea x1={xd[0]} x2={xd[1]} y1={0} y2={50} fill="none" stroke="#000" strokeWidth={1.5} />
          <Line data={rows(gustSpeed)} dataKey="y" stroke="#4a4a4a" strokeWidth={1} dot={false} activeDot={false} isAnimationActive={false} />
          <Line data={rows(meanSpeed)} dataKey="y" stroke="#000" strokeWidth={2} dot={false} activeDot={false} isAnimationActive={false} />
          <Scatter data={rows(speedTenth)} dataKey="y" shape={grayDiamond} isAnimationActive={false} />
        </ComposedChart>
      </div>
      <White l={84} t={4374} w={340} h={6} />
      <T x={252} y={4357} size={18.5}>{'Wokingham,  28 May 2014'}</T>
      <T x={564} y={4345} size={15}>Wind speed, 10 min mean / max gust</T>
      <T x={564} y={4363} size={14.5}>Speeds below 4 kt shown at x10 scale</T>
      <Box l={720} t={4339} w={226} h={26} />
      <Sample x={753} y={4354} w={11} th={2.5} />
      <T x={772} y={4353} size={11.5} anchor="start">Speed x 1</T>
      <svg style={{ position: 'absolute', left: 841, top: 4348 }} width={10} height={10}>
        <path d="M5,1L9,5L5,9L1,5Z" fill="#c4c4c4" stroke="#333" strokeWidth={0.8} />
      </svg>
      <T x={857} y={4353} size={11.5} anchor="start">Speed /10</T>
      <T x={32} y={4577} size={14} rot>Speed (knots)</T>
      <T x={511} y={4828} size={13.5}>Time (GMT)</T>
    </>
  );
}

export default function App() {
  return (
    <div style={{ position: 'relative', width: 1000, height: 5000, margin: '-8px 0 0 -8px', background: '#fff', overflow: 'hidden' }}>
      <div style={{ position: 'absolute', left: 0, top: 0, width: 1000, height: 5000, transform: `scale(1, ${FIT})`, transformOrigin: '0 0' }}>
        <TempPanel />
        <RhPanel />
        <MixPanel />
        <PressurePanel />
        <GrassPanel />
        <RainPanel />
        <SunPanel />
        <DirPanel />
        <SpeedPanel />
      </div>
    </div>
  );
}
